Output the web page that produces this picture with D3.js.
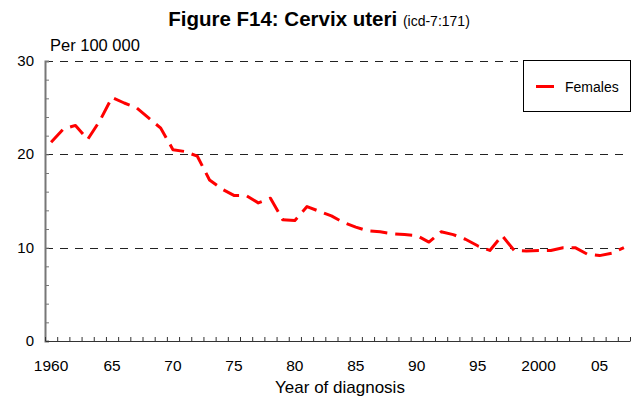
<!DOCTYPE html>
<html><head><meta charset="utf-8">
<script src="https://cdn.jsdelivr.net/npm/d3@7"></script>
<style>body{margin:0;background:#fff}svg{display:block}text{font-family:"Liberation Sans",Arial,sans-serif}</style>
</head><body><svg id="c" width="636" height="401"></svg>
<script>
const years = d3.range(1960, 2008);
const females = [21.3,22.7,23.1,21.6,23.6,26.1,25.5,25.0,23.9,22.8,
  20.5,20.3,19.8,17.25,16.3,15.6,15.6,14.8,15.3,13.0,
  12.9,14.4,13.9,13.4,12.7,12.2,11.8,11.7,11.5,11.4,
  11.3,10.6,11.7,11.4,10.9,10.2,9.7,11.3,9.7,9.65,
  9.7,9.7,10.0,10.0,9.3,9.15,9.4,10.0];
const yTicks = [0,10,20,30];
const xLabelYears = [1960,1965,1970,1975,1980,1985,1990,1995,2000,2005];
const xLabels = ["1960","65","70","75","80","85","90","95","2000","05"];

const svg = d3.select("#c");
const L = 45, R = 630, T = 61, B = 341;
const x = d3.scaleBand().domain(years).range([L, R]);
const y = d3.scaleLinear().domain([0, 30]).range([B, T]);

// gridlines
svg.append("g").selectAll("line").data([10,20,30]).join("line")
  .attr("x1", L).attr("x2", R).attr("y1", d => Math.round(y(d))+0.5).attr("y2", d => Math.round(y(d))+0.5)
  .attr("stroke", "#222").attr("stroke-width", 1).attr("stroke-dasharray", "8,7");

// y axis
const yAxis = d3.axisRight(y).tickValues(d3.range(0, 31, 2)).tickSize(4).tickFormat("");
const gy = svg.append("g").attr("transform", `translate(${L},0)`).call(yAxis);
gy.select(".domain").attr("stroke", "#777").attr("stroke-width", 2);
gy.selectAll(".tick line").attr("stroke", "#777");
svg.append("g").selectAll("text").data(yTicks).join("text")
  .attr("x", 34).attr("y", d => y(d) + 5).attr("text-anchor", "end")
  .attr("font-size", 15).attr("fill", "#000").text(d => d);

// x axis
const edgeScale = d3.scaleLinear().domain([1960, 2008]).range([L, R]);
const gx = svg.append("g").attr("transform", `translate(0,${B})`)
  .call(d3.axisTop(edgeScale).tickValues(d3.range(1960, 2009)).tickSize(4).tickFormat("").tickSizeOuter(0));
gx.select(".domain").attr("stroke", "#333").attr("stroke-width", 1.2);
gx.selectAll(".tick line").attr("stroke", "#333");
svg.append("g").selectAll("text").data(xLabelYears).join("text")
  .attr("x", d => x(d) + x.bandwidth()/2).attr("y", 371).attr("text-anchor", "middle")
  .attr("font-size", 15.5).attr("fill", "#000").text((d, i) => xLabels[i]);

// line
const line = d3.line().x((d, i) => x(years[i]) + x.bandwidth()/2).y(d => y(d));
svg.append("path").datum(females).attr("d", line)
  .attr("fill", "none").attr("stroke", "#ff0000").attr("stroke-width", 3)
  .attr("stroke-dasharray", "17,8").attr("stroke-linejoin", "round");

// titles
const title = svg.append("text").attr("x", 319).attr("y", 26).attr("text-anchor", "middle").attr("fill", "#000");
title.append("tspan").attr("font-size", 20.5).attr("font-weight", "bold").text("Figure F14: Cervix uteri ");
title.append("tspan").attr("font-size", 14).text("(icd-7:171)");
svg.append("text").attr("x", 50).attr("y", 51).attr("font-size", 16.5).attr("fill", "#000").text("Per 100 000");
svg.append("text").attr("x", 340).attr("y", 393).attr("text-anchor", "middle").attr("font-size", 17).attr("fill", "#000").text("Year of diagnosis");

// legend
const lg = svg.append("g");
lg.append("rect").attr("x", 523.5).attr("y", 60.5).attr("width", 107).attr("height", 51)
  .attr("fill", "#fff").attr("stroke", "#000").attr("stroke-width", 1);
lg.append("line").attr("x1", 536).attr("x2", 554).attr("y1", 86.5).attr("y2", 86.5)
  .attr("stroke", "#ff0000").attr("stroke-width", 3);
lg.append("text").attr("x", 565).attr("y", 92).attr("font-size", 14).attr("fill", "#000").text("Females");
</script></body></html>
